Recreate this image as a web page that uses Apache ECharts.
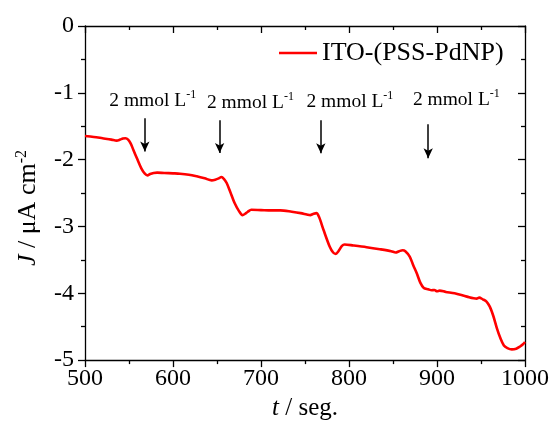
<!DOCTYPE html>
<html><head><meta charset="utf-8">
<script src="https://cdn.jsdelivr.net/npm/echarts@6/dist/echarts.min.js"></script>
<style>html,body{margin:0;padding:0;background:#fff}#c{width:553px;height:426px}</style>
</head><body><div id="c"></div>
<script>
var seriesName = 'ITO-(PSS-PdNP)';
var tValues = [500,510,520,530,536,540,543,546,549,552,555,559,564,568,571,574,578,582,590,600,608,618,627,636,644,648,652,655,658,661,665,670,675,679,682,685,689,700,712,722,735,745,752,756,759,763,766,771,778,782,785,788,792,795,805,820,835,848,853,857,861,864,869,873,877,881,885,890,894,897,900,903,910,920,934,945,948,952,956,960,964,968,972,976,980,985,990,994,998,1000];
var jValues = [-1.646,-1.66,-1.68,-1.70,-1.716,-1.70,-1.685,-1.68,-1.70,-1.76,-1.855,-1.98,-2.13,-2.21,-2.235,-2.215,-2.20,-2.195,-2.20,-2.205,-2.21,-2.225,-2.25,-2.28,-2.31,-2.30,-2.28,-2.26,-2.29,-2.35,-2.48,-2.65,-2.77,-2.83,-2.81,-2.78,-2.75,-2.755,-2.76,-2.76,-2.78,-2.80,-2.82,-2.83,-2.815,-2.80,-2.86,-3.05,-3.30,-3.39,-3.41,-3.37,-3.29,-3.27,-3.285,-3.31,-3.34,-3.37,-3.39,-3.37,-3.355,-3.37,-3.45,-3.58,-3.70,-3.84,-3.92,-3.94,-3.955,-3.95,-3.97,-3.96,-3.98,-4.00,-4.05,-4.08,-4.065,-4.09,-4.12,-4.20,-4.34,-4.52,-4.67,-4.78,-4.82,-4.84,-4.83,-4.80,-4.76,-4.73];
var arrowT = [568, 653, 768, 890];
var arrowTop = [-1.38, -1.41, -1.41, -1.47];
var arrowTip = [-1.88, -1.90, -1.905, -1.98];
var noteT = [577, 688, 801, 922];
var noteJ = [-1.12, -1.15, -1.13, -1.11];
var noteText = '2 mmol L';
var noteSup = '-1';
var xTicks = {min: 500, max: 1000, interval: 100};
var yTicks = {min: -5, max: 0, interval: 1};

var FONT = '"Liberation Serif","Times New Roman",serif';
var lineData = tValues.map(function(t, i){ return [t, jValues[i]]; });
var arrows = arrowT.map(function(t, i){ return [{coord:[t, arrowTop[i]]},{coord:[t, arrowTip[i]]}]; });
var notes = noteT.map(function(t, i){ return [t, noteJ[i]]; });

var axisLine = {show: true, onZero: false, lineStyle: {color: '#000', width: 1.3}};
var chart = echarts.init(document.getElementById('c'), null, {renderer: 'canvas'});
chart.setOption({
  animation: false,
  backgroundColor: '#fff',
  grid: {left: 85, right: 28, top: 26, bottom: 65},
  legend: {
    data: [{name: seriesName, icon: 'rect'}], left: 279, top: 40, padding: 0, itemWidth: 38, itemHeight: 2.5, itemGap: 4,
    textStyle: {fontFamily: FONT, fontSize: 26, color: '#000'}, selectedMode: false
  },
  xAxis: [{
    type: 'value', min: xTicks.min, max: xTicks.max, interval: xTicks.interval,
    name: '{i|t} / seg.', nameLocation: 'middle', nameGap: 35,
    nameTextStyle: {fontFamily: FONT, fontSize: 25, color: '#000', rich: {i: {fontFamily: FONT, fontSize: 25, fontStyle: 'italic'}}},
    axisLine: axisLine, axisTick: {show: true, inside: false, length: 7, lineStyle: {color: '#000', width: 1.3}},
    minorTick: {show: true, splitNumber: 2, length: 4, lineStyle: {color: '#000', width: 1.3}},
    axisLabel: {fontFamily: FONT, fontSize: 24, color: '#000', margin: 7, formatter: function(v){ return String(v); }},
    splitLine: {show: false}
  }, {
    type: 'value', position: 'top', min: xTicks.min, max: xTicks.max, interval: xTicks.interval,
    axisLine: axisLine, axisTick: {show: true, inside: true, length: 7, lineStyle: {color: '#000', width: 1.3}},
    minorTick: {show: true, splitNumber: 2, length: 4, lineStyle: {color: '#000', width: 1.3}},
    axisLabel: {show: false}, splitLine: {show: false}
  }],
  yAxis: [{
    type: 'value', min: yTicks.min, max: yTicks.max, interval: yTicks.interval,
    name: '{i|J} / μA cm{s|-2}', nameLocation: 'middle', nameGap: 43, nameRotate: 90,
    nameTextStyle: {fontFamily: FONT, fontSize: 26, color: '#000', padding: [0, 30, 0, 0], rich: {
      i: {fontFamily: FONT, fontSize: 26, fontStyle: 'italic', lineHeight: 28},
      s: {fontFamily: FONT, fontSize: 16, verticalAlign: 'top', lineHeight: 14}
    }},
    axisLine: axisLine, axisTick: {show: true, inside: false, length: 7, lineStyle: {color: '#000', width: 1.3}},
    minorTick: {show: true, splitNumber: 2, length: 4, lineStyle: {color: '#000', width: 1.3}},
    axisLabel: {fontFamily: FONT, fontSize: 24, color: '#000', margin: 11},
    splitLine: {show: false}
  }, {
    type: 'value', position: 'right', min: yTicks.min, max: yTicks.max, interval: yTicks.interval,
    axisLine: axisLine, axisTick: {show: true, inside: true, length: 7, lineStyle: {color: '#000', width: 1.3}},
    minorTick: {show: true, splitNumber: 2, length: 4, lineStyle: {color: '#000', width: 1.3}},
    axisLabel: {show: false}, splitLine: {show: false}
  }],
  series: [{
    name: seriesName, type: 'line', data: lineData, symbol: 'none', smooth: 0.3,
    lineStyle: {color: '#ff0000', width: 2.6}, itemStyle: {color: '#ff0000'},
    markLine: {
      silent: true, symbol: ['none', 'arrow'], symbolSize: [7, 10],
      lineStyle: {color: '#000', width: 1.5, type: 'solid', opacity: 1}, itemStyle: {color: '#000'}, label: {show: false},
      emphasis: {disabled: true},
      data: arrows
    }
  }, {
    name: 'notes', type: 'scatter', data: notes, symbolSize: 0, silent: true,
    itemStyle: {color: '#000', opacity: 1},
    label: {
      show: true, position: 'inside', color: '#000', opacity: 1, textBorderWidth: 0,
      formatter: '{a|' + noteText + '}{s|' + noteSup + '}',
      rich: {
        a: {fontFamily: FONT, fontSize: 19.5, color: '#000', lineHeight: 24, textBorderWidth: 0},
        s: {fontFamily: FONT, fontSize: 12, color: '#000', verticalAlign: 'top', lineHeight: 12, textBorderWidth: 0}
      }
    }
  }]
});
</script></body></html>
